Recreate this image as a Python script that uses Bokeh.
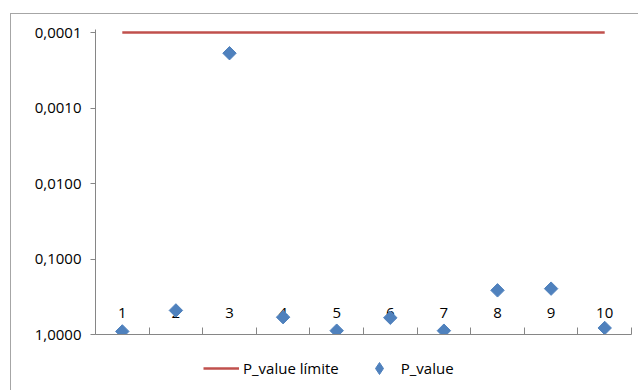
import math
from bokeh.plotting import figure
from bokeh.layouts import column
from bokeh.models import Range1d, FixedTicker, Legend, LegendItem
from bokeh.core.properties import value
from bokeh.embed import file_html
from bokeh.resources import INLINE

# ---- data ----
categories = ["1", "2", "3", "4", "5", "6", "7", "8", "9", "10"]
x_pos = list(range(1, len(categories) + 1))
p_values = [0.91, 0.48, 0.000188, 0.59, 0.89, 0.60, 0.89, 0.26, 0.247, 0.82]
p_limit = 0.0001
y_ticks = [0.0001, 0.001, 0.01, 0.1, 1.0]
y_tick_labels = ["0,0001", "0,0010", "0,0100", "0,1000", "1,0000"]
series_names = ["P_value límite", "P_value"]

FONT = "Open Sans"
AXIS_COLOR = "#868686"
BORDER = "1px solid #a6a6a6"
RED = "#C0504D"
BLUE = "#4F81BD"
PX_PER_DECADE = 75.25
top_pad = 10 ** (3 / PX_PER_DECADE)  # extend the range 3px above the top tick

limit_x = [x_pos[0], x_pos[-1]]
limit_y = [p_limit, p_limit]

p = figure(
    frame_width=535, frame_height=304,
    min_border_left=84, min_border_top=15, min_border_right=8, min_border_bottom=12,
    y_axis_type="log",
    x_range=Range1d(x_pos[0] - 0.5, x_pos[-1] + 0.5),
    y_range=Range1d(y_ticks[-1], y_ticks[0] / top_pad),
    output_backend="svg", toolbar_location=None,
)
p.styles = {"border-left": BORDER, "border-top": BORDER,
            "margin-left": "10px", "margin-top": "13px"}
p.outline_line_color = None
p.xgrid.visible = False
p.ygrid.visible = False

# y axis
p.yaxis.ticker = FixedTicker(ticks=y_ticks)
p.yaxis.major_label_overrides = {t: l for t, l in zip(y_ticks, y_tick_labels)}
p.yaxis.axis_line_color = AXIS_COLOR
p.yaxis.major_tick_line_color = AXIS_COLOR
p.yaxis.major_tick_in = 0
p.yaxis.major_tick_out = 5
p.yaxis.minor_tick_line_color = None
p.yaxis.major_label_text_font = FONT
p.yaxis.major_label_text_font_size = "15px"
p.yaxis.major_label_text_color = "black"
p.yaxis.major_label_standoff = 9

# x axis (category boundaries as ticks, labels drawn as text)
bounds = [x - 0.5 for x in x_pos] + [x_pos[-1] + 0.5]
p.xaxis.ticker = FixedTicker(ticks=bounds)
p.xaxis.major_label_overrides = {b: "" for b in bounds}
p.xaxis.axis_line_color = AXIS_COLOR
p.xaxis.major_tick_line_color = AXIS_COLOR
p.xaxis.major_tick_in = 7
p.xaxis.major_tick_out = 0
p.xaxis.minor_tick_line_color = None
p.xaxis.major_label_text_font_size = "1px"
p.xaxis.major_label_standoff = 0

# category labels just above the axis
p.text(x=x_pos, y=[y_ticks[-1]] * len(x_pos), text=categories,
       text_align="center", text_baseline="alphabetic", y_offset=-22,
       text_font=value(FONT), text_font_size="15px", text_color="black")

p.line(x=limit_x, y=limit_y, line_color=RED, line_width=2.5)
p.scatter(x=x_pos, y=p_values, marker="square", size=9.5, angle=math.pi / 4,
          fill_color=BLUE, line_color=BLUE)

# ---- legend strip below the chart (same series, drawn out of view; only the legend shows) ----
lg = figure(width=627, height=45, min_border=0, x_range=Range1d(-2, -1), y_range=Range1d(0, 1),
            x_axis_location=None, y_axis_location=None,
            output_backend="svg", toolbar_location=None)
lg.styles = {"border-left": BORDER, "margin-left": "10px"}
lg.outline_line_color = None
lg.xgrid.visible = False
lg.ygrid.visible = False
lg_line = lg.line(x=limit_x, y=limit_y, line_color=RED, line_width=2.5)
lg_mark = lg.scatter(x=x_pos, y=p_values, marker="diamond", size=12,
                     fill_color=BLUE, line_color=BLUE)
legend = Legend(
    items=[LegendItem(label=series_names[0], renderers=[lg_line]),
           LegendItem(label=series_names[1], renderers=[lg_mark])],
    location=(108, 7), orientation="horizontal",
    glyph_width=36, glyph_height=30, label_height=30, spacing=22, label_standoff=4,
    padding=0, margin=0, border_line_color=None, background_fill_alpha=0,
    label_text_font=FONT, label_text_font_size="15px", label_text_color="black",
)
lg.add_layout(legend, "center")

open("out.html", "w").write(file_html(column(p, lg, spacing=0), INLINE))
